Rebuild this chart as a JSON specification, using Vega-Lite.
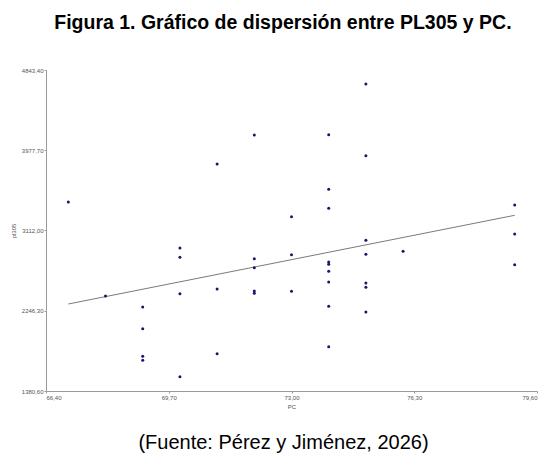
{
  "$schema": "https://vega.github.io/schema/vega-lite/v6.json",
  "background": "white",
  "padding": {"left": 10, "top": 12, "right": 10, "bottom": 5},
  "title": {"text": "Figura 1. Gráfico de dispersión entre PL305 y PC.", "font": "Liberation Sans", "fontSize": 19.5, "fontWeight": "bold", "color": "#000000", "anchor": "middle", "offset": 34, "dx": 9},
  "datasets": {
    "pts": [
      {"PC": 67, "PL305": 3419},
      {"PC": 68, "PL305": 2405},
      {"PC": 69, "PL305": 2287}, {"PC": 69, "PL305": 2053}, {"PC": 69, "PL305": 1755}, {"PC": 69, "PL305": 1712},
      {"PC": 70, "PL305": 2923}, {"PC": 70, "PL305": 2823}, {"PC": 70, "PL305": 2430}, {"PC": 70, "PL305": 1535},
      {"PC": 71, "PL305": 3829}, {"PC": 71, "PL305": 2481}, {"PC": 71, "PL305": 1783},
      {"PC": 72, "PL305": 4142}, {"PC": 72, "PL305": 2808}, {"PC": 72, "PL305": 2711}, {"PC": 72, "PL305": 2459}, {"PC": 72, "PL305": 2434},
      {"PC": 73, "PL305": 3261}, {"PC": 73, "PL305": 2851}, {"PC": 73, "PL305": 2456},
      {"PC": 74, "PL305": 4145}, {"PC": 74, "PL305": 3556}, {"PC": 74, "PL305": 3351}, {"PC": 74, "PL305": 2772}, {"PC": 74, "PL305": 2747}, {"PC": 74, "PL305": 2672}, {"PC": 74, "PL305": 2557}, {"PC": 74, "PL305": 2294}, {"PC": 74, "PL305": 1859},
      {"PC": 75, "PL305": 4692}, {"PC": 75, "PL305": 3919}, {"PC": 75, "PL305": 3006}, {"PC": 75, "PL305": 2855}, {"PC": 75, "PL305": 2546}, {"PC": 75, "PL305": 2499}, {"PC": 75, "PL305": 2233},
      {"PC": 76, "PL305": 2888},
      {"PC": 79, "PL305": 3387}, {"PC": 79, "PL305": 3074}, {"PC": 79, "PL305": 2743}
    ],
    "fit": [
      {"PC": 67, "PL305": 2319},
      {"PC": 79, "PL305": 3276}
    ]
  },
  "vconcat": [
    {
      "width": 491,
      "height": 321,
      "title": {"text": "(Fuente: Pérez y Jiménez, 2026)", "orient": "bottom", "font": "Liberation Sans", "fontSize": 20, "fontWeight": "normal", "color": "#000000", "anchor": "middle", "offset": 24, "dx": -8},
      "layer": [
        {
          "data": {"name": "fit"},
          "mark": {"type": "line", "color": "#7a7a7a", "strokeWidth": 1},
          "encoding": {
            "x": {"field": "PC", "type": "quantitative"},
            "y": {"field": "PL305", "type": "quantitative"}
          }
        },
        {
          "data": {"name": "pts"},
          "mark": {"type": "point", "shape": "circle", "filled": true, "size": 9, "color": "#16166e", "opacity": 1},
          "encoding": {
            "x": {
              "field": "PC", "type": "quantitative",
              "scale": {"domain": [66.4, 79.6], "nice": false, "zero": false},
              "axis": {
                "title": "PC", "values": [66.4, 69.7, 73.0, 76.3, 79.6],
                "labelExpr": "replace(format(datum.value, '.2f'), '.', ',')",
                "grid": false, "domainColor": "#9a9a9a", "tickColor": "#9a9a9a", "tickSize": 2,
                "labelFont": "Liberation Sans", "labelFontSize": 6, "labelColor": "#555555", "labelPadding": 1,
                "labelOverlap": false, "labelBound": false,
                "titleFont": "Liberation Sans", "titleFontSize": 6, "titleFontWeight": "normal", "titleColor": "#555555", "titlePadding": 3
              }
            },
            "y": {
              "field": "PL305", "type": "quantitative",
              "scale": {"domain": [1380.6, 4843.4], "nice": false, "zero": false},
              "axis": {
                "title": "pl305", "values": [1380.6, 2246.3, 3112.0, 3977.7, 4843.4],
                "labelExpr": "replace(format(datum.value, '.2f'), '.', ',')",
                "grid": false, "domainColor": "#9a9a9a", "tickColor": "#9a9a9a", "tickSize": 2,
                "labelFont": "Liberation Sans", "labelFontSize": 6, "labelColor": "#555555", "labelPadding": 1,
                "titleFont": "Liberation Sans", "titleFontSize": 6, "titleFontWeight": "normal", "titleColor": "#555555", "titlePadding": 5
              }
            }
          }
        }
      ]
    }
  ],
  "config": {"view": {"stroke": null}}
}
